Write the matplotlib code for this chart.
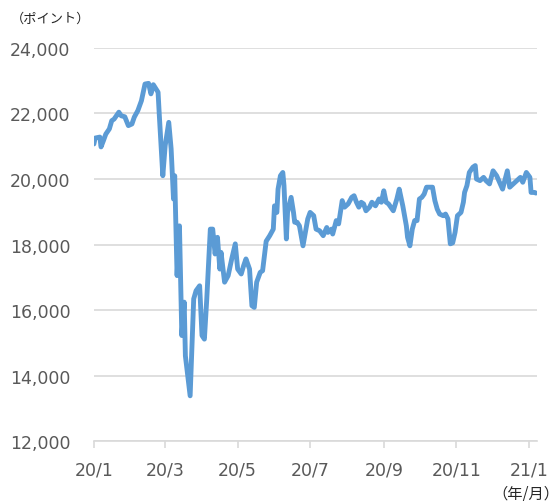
import pandas as pd
import matplotlib.pyplot as plt

plt.rcParams["font.family"] = ["DejaVu Sans", "Noto Sans CJK JP"]

# days since 2020-01-01, index value
days = [
    0, 1, 5, 6, 8, 10, 13, 15, 17, 21, 23, 26, 29, 32, 34, 37, 40, 43, 46, 48,
    50, 54, 55, 58, 60, 63, 65, 67, 68, 70, 72, 74, 76, 77, 79, 81, 84, 86, 89, 91,
    93, 95, 98, 100, 102, 104, 106, 107, 110, 113, 116, 119, 121, 124, 126, 128, 131, 133, 135, 137,
    140, 142, 145, 148, 151, 152, 154, 155, 157, 159, 160, 162, 163, 166, 168, 169, 171, 173, 176, 178,
    180, 182, 185, 187, 190, 193, 196, 197, 200, 201, 204, 206, 209, 211, 214, 217, 219, 221, 223, 225,
    227, 229, 232, 234, 237, 240, 242, 244, 246, 248, 252, 255, 257, 260, 263, 264, 266, 268, 270, 272,
    274, 276, 278, 280, 283, 285, 287, 289, 291, 294, 296, 298, 300, 302, 304, 306, 309, 311, 312, 314,
    316, 319, 321, 322, 325, 328, 330, 333, 336, 339, 342, 344, 348, 350, 353, 356, 359, 361, 364, 367,
    368, 371, 372,
]
values = [
    21070, 21250, 21280, 20980, 21170, 21370, 21530, 21780, 21830, 22040,
    21930, 21900, 21630, 21680, 21890, 22090, 22390, 22900, 22920, 22600,
    22880, 22650, 21980, 20100, 21020, 21730, 20920, 19390, 20100, 17050,
    18570, 15220, 16240, 14600, 13990, 13380, 16340, 16590, 16740, 15220,
    15110, 16340, 18470, 18470, 17710, 18220, 17250, 17760, 16850, 17050,
    17560, 18020, 17250, 17100, 17350, 17560, 17250, 16130, 16080, 16850,
    17150, 17200, 18100, 18270, 18470, 19180, 18980, 19690, 20100, 20200,
    19800, 18170, 18980, 19440, 18980, 18680, 18680, 18570, 17960, 18370,
    18780, 18980, 18880, 18470, 18420, 18270, 18520, 18370, 18470, 18320,
    18730, 18630, 19340, 19140, 19240, 19440, 19490, 19290, 19140, 19290,
    19240, 19030, 19140, 19290, 19180, 19390, 19290, 19640, 19290, 19240,
    19030, 19390, 19690, 19180, 18570, 18220, 17960, 18470, 18730, 18730,
    19390, 19440, 19540, 19750, 19750, 19750, 19340, 19080, 18930, 18880,
    18930, 18780, 18020, 18050, 18370, 18880, 18980, 19290, 19590, 19800,
    20200, 20360, 20410, 20000, 19950, 20050, 19950, 19850, 20250, 20100,
    19850, 19690, 20250, 19750, 19850, 19950, 20050, 19900, 20200, 20050,
    19590, 19590, 19570,
]

tick_dates = ["2020-01-01", "2020-03-01", "2020-05-01", "2020-07-01",
              "2020-09-01", "2020-11-01", "2021-01-01"]
tick_labels = ["20/1", "20/3", "20/5", "20/7", "20/9", "20/11", "21/1"]

dates = pd.Timestamp("2020-01-01") + pd.to_timedelta(days, unit="D")

text_color = "#595959"
grid_color = "#D9D9D9"

fig = plt.figure(figsize=(5.59, 5.02), dpi=100)
ax = fig.add_axes([0.168, 0.1195, 0.7927, 0.7829])

ax.plot(dates, values, color="#5B9BD5", lw=3.5, solid_joinstyle="round",
        solid_capstyle="round")

ax.set_xlim(pd.Timestamp("2020-01-01"), pd.Timestamp("2021-01-08"))
ax.set_ylim(12000, 24000)
ax.set_yticks(range(12000, 24001, 2000))
ax.yaxis.set_major_formatter(plt.FuncFormatter(lambda v, p: f"{int(v):,}"))
ax.set_xticks(pd.to_datetime(tick_dates))
ax.set_xticklabels(tick_labels)

ax.grid(axis="y", color=grid_color, lw=1.2)
ax.set_axisbelow(True)
for side in ["top", "right", "left"]:
    ax.spines[side].set_visible(False)
ax.spines["bottom"].set_color(grid_color)
ax.spines["bottom"].set_linewidth(1.2)

ax.tick_params(axis="y", length=0, pad=17, labelsize=12.5, labelcolor=text_color)
ax.tick_params(axis="x", length=5, width=1.2, color=grid_color, pad=9,
               labelsize=12.5, labelcolor=text_color)

fig.text(0.02, 0.962, "（ポイント）", fontsize=9.5, color="#262626",
         family=["Noto Sans CJK JP", "DejaVu Sans"], va="center", ha="left")
fig.text(1.0, 0.016, "（年/月）", fontsize=11, color="#262626",
         family=["Noto Sans CJK JP", "DejaVu Sans"], va="center", ha="right")

fig.savefig("out.png", dpi=100)
